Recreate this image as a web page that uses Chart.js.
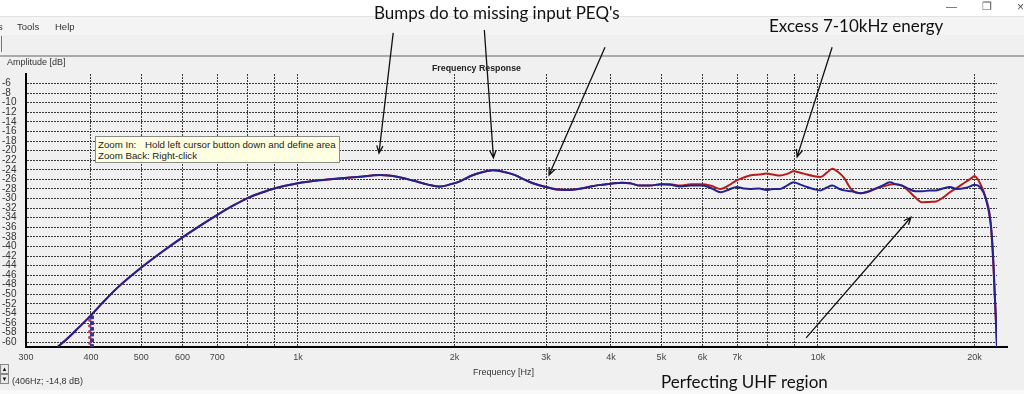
<!DOCTYPE html>
<html>
<head>
<meta charset="utf-8">
<script src="https://cdn.jsdelivr.net/npm/chart.js@4.4.1/dist/chart.umd.min.js"></script>
<style>
  html, body { margin: 0; padding: 0; }
  body { width: 1024px; height: 394px; position: relative; overflow: hidden; background: #f0f0f0;
         font-family: "Liberation Sans", Arial, sans-serif; color: #222; }
  .bg { position: absolute; left: 0; width: 1024px; z-index: 0; }
  .t { position: absolute; white-space: nowrap; line-height: 1; z-index: 2; }
  .note { font-family: Lato, "Open Sans", sans-serif; font-size: 17px; color: #111; }
  .ui { font-size: 9px; color: #333; }
  #chartBox { position: absolute; left: 0; top: 0; width: 1024px; height: 394px; z-index: 1; }
  #tip { position: absolute; left: 95px; top: 136px; width: 243px; height: 25px; background: #ffffe1;
         border: 1px solid #8a8a8a; z-index: 2; font-size: 9.7px; color: #222; }
  #tip div { position: absolute; white-space: nowrap; line-height: 1; }
  .spin { position: absolute; left: 0; width: 7px; height: 8px; border: 1px solid #888; background: #e8e8e8;
          font-size: 6px; line-height: 8px; text-align: center; z-index: 2; color: #111; }
</style>
</head>
<body>
<div class="bg" style="top:0;height:16px;background:#fff"></div>
<div class="bg" style="top:16px;height:1px;background:#e2e2e2"></div>
<div class="bg" style="top:17px;height:18px;background:#f4f4f4"></div>
<div class="bg" style="top:55px;height:2px;background:#a9a9a9"></div>
<div class="bg" style="top:390px;height:4px;background:#f9f9f9"></div>
<div class="bg" style="top:36px;left:1px;width:1px;height:16px;background:#777"></div>

<div class="t ui" style="left:946px;top:1px;font-size:11px;color:#555">&#8212;</div>
<div class="t ui" style="left:982px;top:1px;font-size:11px;color:#555">&#10064;</div>
<div class="t ui" style="left:1017px;top:1px;font-size:12px;color:#555">&#215;</div>

<div class="t ui" style="left:-2px;top:22px;font-size:9.5px">s</div>
<div class="t ui" style="left:17px;top:22px;font-size:9.5px">Tools</div>
<div class="t ui" style="left:55px;top:22px;font-size:9.5px">Help</div>
<div class="t ui" style="left:7px;top:58px">Amplitude [dB]</div>
<div class="t ui" style="left:432px;top:64px;font-weight:bold;font-size:8.8px;color:#222">Frequency Response</div>
<div class="t ui" style="left:473px;top:368px">Frequency [Hz]</div>
<div class="t ui" style="left:12px;top:377px">(406Hz; -14,8 dB)</div>
<div class="spin" style="top:364px">&#9650;</div>
<div class="spin" style="top:374px">&#9660;</div>

<div class="t note" style="left:374px;top:4px">Bumps do to missing input PEQ's</div>
<div class="t note" style="left:769px;top:17px">Excess 7-10kHz energy</div>
<div class="t note" style="left:661px;top:373px">Perfecting UHF region</div>

<div id="tip">
  <div style="left:2px;top:3px">Zoom In:</div>
  <div style="left:49px;top:3px">Hold left cursor button down and define area</div>
  <div style="left:2px;top:14px">Zoom Back: Right-click</div>
</div>

<div id="chartBox"><canvas id="fr"></canvas></div>

<script>
const blueFreq = [345, 360, 380, 400, 420, 450, 500, 550, 600, 650, 700, 750, 800, 850, 900,
  1000, 1100, 1200, 1300, 1440, 1560, 1670, 1780, 1880, 1970, 2060, 2160, 2260, 2370, 2480,
  2600, 2720, 2830, 3000, 3150, 3300, 3460, 3620, 3780, 4000, 4200, 4350, 4550, 4750, 5000,
  5200, 5430, 5700, 6000, 6250, 6500, 6750, 6980, 7200, 7400, 7700, 7970, 8200, 8460, 8750,
  8980, 9250, 9530, 9800, 10120, 10400, 10660, 10950, 11230, 11600, 12100, 12500, 12870, 13300,
  13760, 14100, 14520, 14960, 15400, 15880, 16400, 16880, 17400, 17940, 18480, 19190, 19700,
  20000, 20500, 21030, 21490, 21700, 21900, 22100];
const blueDb = [-61, -59.3, -56.8, -54.4, -51.9, -48.6, -44.4, -41.0, -38.1, -35.6, -33.4, -31.5, -29.9, -28.8, -27.9,
  -26.8, -26.2, -25.8, -25.5, -25.1, -25.5, -26.3, -27.1, -27.5, -27.0, -26.3, -25.2, -24.5, -24.1, -24.4,
  -25.0, -26.0, -26.8, -27.6, -28.1, -28.2, -28.0, -27.6, -27.2, -26.9, -26.7, -26.8, -27.3, -27.3, -27.0,
  -27.1, -27.5, -27.3, -27.3, -27.9, -28.7, -28.1, -27.6, -27.9, -28.0, -27.9, -28.2, -28.0, -28.0, -27.2,
  -26.6, -27.1, -27.6, -28.0, -28.3, -27.7, -27.3, -27.9, -28.3, -28.5, -28.9, -28.5, -28.0, -27.3,
  -26.6, -27.0, -27.3, -28.0, -28.5, -28.5, -28.3, -28.3, -27.9, -27.6, -28.0, -27.8, -27.4,
  -27.1, -27.6, -30.0, -35.3, -41.0, -51.0, -61.0];

// second response (red), same as blue below 5 kHz
const redFreq = [5000, 5200, 5430, 5700, 6000, 6250, 6500, 6750, 6980, 7200, 7400, 7700, 7970, 8200,
  8460, 8750, 8980, 9250, 9530, 9800, 10120, 10400, 10660, 10950, 11230, 11600, 12100, 12500, 12870,
  13300, 13760, 14100, 14520, 14960, 15400, 15880, 16400, 16880, 17400, 17940, 18480, 19190, 19700,
  20000, 20500, 21030, 21490, 21750, 21950, 22100];
const redDb = [-27.0, -27.0, -27.3, -27.0, -27.0, -27.4, -28.0, -27.2, -26.2, -25.6, -25.2, -25.0, -24.8, -25.0,
  -25.2, -24.8, -24.3, -24.6, -25.0, -25.3, -25.5, -24.6, -23.8, -24.5, -25.7, -28.1, -28.9, -28.6, -28.0,
  -27.5, -27.1, -27.0, -27.3, -28.5, -29.8, -30.8, -30.7, -30.6, -29.8, -28.7, -27.8, -26.6, -25.8,
  -25.3, -26.8, -29.9, -35.0, -44.0, -53.0, -61.0];

// stray marker column at 400 Hz
const markBlueDb = [-54.8, -56.0, -57.2, -58.4, -59.6, -60.8];
const markRedDb = [-55.4, -56.6, -57.8, -59.0, -60.2];

// axes
const yTicks = [-6, -8, -10, -12, -14, -16, -18, -20, -22, -24, -26, -28, -30, -32, -34, -36, -38,
  -40, -42, -44, -46, -48, -50, -52, -54, -56, -58, -60];
const xGrid = [300, 400, 500, 600, 700, 800, 900, 1000, 2000, 3000, 4000, 5000, 6000, 7000, 8000, 9000, 10000, 20000];
const xLabelValues = [300, 400, 500, 600, 700, 1000, 2000, 3000, 4000, 5000, 6000, 7000, 10000, 20000];
const xLabelText = ['300', '400', '500', '600', '700', '1k', '2k', '3k', '4k', '5k', '6k', '7k', '10k', '20k'];

// annotation arrows: tail -> tip, in (Hz, dB)
const arrowTails = [[1525, 4.6], [2283, 5.2], [3896, 1.6], [10650, 1.6], [9490, -59.1]];
const arrowTips = [[1432, -20.5], [2377, -21.5], [3041, -25.1], [9120, -21.3], [15100, -33.9]];

const bluePts = blueFreq.map((f, i) => ({ x: f, y: blueDb[i] }));
const redPts = bluePts.filter(p => p.x < redFreq[0])
  .concat(redFreq.map((f, i) => ({ x: f, y: redDb[i] })));

const arrowPlugin = {
  id: 'arrows',
  afterDraw(chart) {
    const { ctx, chartArea, scales: { x, y } } = chart;
    ctx.save();
    // x axis line runs a bit past the plot, like the app does
    ctx.fillStyle = '#000';
    ctx.fillRect(chartArea.right, chartArea.bottom - 1, 11, 2);
    ctx.strokeStyle = '#111';
    ctx.lineWidth = 1.3;
    arrowTails.forEach((t, i) => {
      const x0 = x.getPixelForValue(t[0]), y0 = y.getPixelForValue(t[1]);
      const x1 = x.getPixelForValue(arrowTips[i][0]), y1 = y.getPixelForValue(arrowTips[i][1]);
      const a = Math.atan2(y1 - y0, x1 - x0);
      ctx.beginPath();
      ctx.moveTo(x0, y0);
      ctx.lineTo(x1, y1);
      ctx.moveTo(x1 - 8 * Math.cos(a - 0.4), y1 - 8 * Math.sin(a - 0.4));
      ctx.lineTo(x1, y1);
      ctx.lineTo(x1 - 8 * Math.cos(a + 0.4), y1 - 8 * Math.sin(a + 0.4));
      ctx.stroke();
    });
    ctx.restore();
  }
};

new Chart(document.getElementById('fr'), {
  type: 'line',
  data: {
    datasets: [
      { label: 'blue', data: bluePts, borderColor: '#23238f', borderWidth: 2, pointRadius: 0,
        cubicInterpolationMode: 'monotone', order: 0 },
      { label: 'red', data: redPts, borderColor: '#b51d1d', borderWidth: 2, pointRadius: 0,
        cubicInterpolationMode: 'monotone', order: 1 },
      { label: 'mb', data: markBlueDb.map(v => ({ x: 402, y: v })), showLine: false, pointStyle: 'rect',
        pointRadius: 2, backgroundColor: '#3a2f9a', borderColor: '#3a2f9a', order: 2 },
      { label: 'mr', data: markRedDb.map(v => ({ x: 398, y: v })), showLine: false, pointStyle: 'rect',
        pointRadius: 1.5, backgroundColor: '#b04060', borderColor: '#b04060', order: 3 }
    ]
  },
  options: {
    responsive: true,
    maintainAspectRatio: false,
    animation: false,
    events: [],
    layout: { padding: { left: 2, top: 74, right: 27, bottom: 27 } },
    plugins: { legend: { display: false }, title: { display: false }, tooltip: { enabled: false } },
    scales: {
      x: {
        type: 'logarithmic', min: 300, max: 22100,
        afterBuildTicks: s => { s.ticks = xGrid.map(v => ({ value: v })); },
        afterFit: s => { s.height = 20; },
        ticks: {
          autoSkip: false, maxRotation: 0, padding: 5, color: '#444',
          font: { family: 'Liberation Sans', size: 9 },
          callback: v => { const i = xLabelValues.indexOf(v); return i < 0 ? '' : xLabelText[i]; }
        },
        grid: { color: '#3a3a3a', lineWidth: 1, drawTicks: false },
        border: { display: true, color: '#000', width: 2, dash: [2, 1] }
      },
      y: {
        min: -61, max: -4,
        afterBuildTicks: s => { s.ticks = yTicks.map(v => ({ value: v })); },
        afterFit: s => { s.width = 24; },
        ticks: { autoSkip: false, crossAlign: 'far', padding: 0, color: '#333',
                 font: { family: 'Liberation Sans', size: 10 } },
        grid: { color: '#3a3a3a', lineWidth: 1, drawTicks: false },
        border: { display: true, color: '#000', width: 2, dash: [2, 1] }
      }
    }
  },
  plugins: [arrowPlugin]
});
</script>
</body>
</html>
